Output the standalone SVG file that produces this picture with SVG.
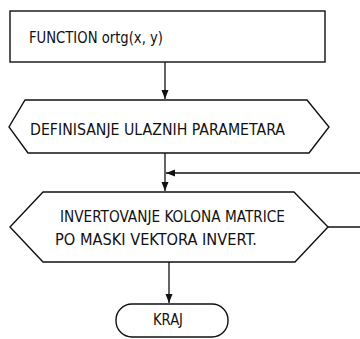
<svg xmlns="http://www.w3.org/2000/svg" width="360" height="339" viewBox="0 0 360 339">
<style>
.s{fill:#fff;stroke:#111;stroke-width:1.4;stroke-linejoin:miter}
.c{fill:none;stroke:#111;stroke-width:1.3}
.t{font-family:"DejaVu Sans Condensed","Liberation Sans",sans-serif;font-size:15px;fill:#111}
</style>
<defs>
<marker id="ah" markerWidth="10" markerHeight="8" refX="9" refY="4" orient="auto" markerUnits="userSpaceOnUse">
<path d="M0,0.5 L9,4 L0,7.5 Z" fill="#111"/>
</marker>
</defs>
<rect width="360" height="339" fill="#fff"/>
<g id="connectors">
<path class="c" d="M165,62 V99" marker-end="url(#ah)"/>
<path class="c" d="M165,153 V191" marker-end="url(#ah)"/>
<path class="c" d="M362,173 H166" marker-end="url(#ah)"/>
<path class="c" d="M328,227 H362"/>
<path class="c" d="M169,262 V303" marker-end="url(#ah)"/>
</g>
<g id="n_function">
<rect class="s" x="10" y="11" width="315" height="51"/>
<text class="t" x="29" y="43" textLength="134" lengthAdjust="spacingAndGlyphs">FUNCTION ortg(x, y)</text>
</g>
<g id="n_definisanje">
<polygon class="s" points="25,100 307,100 329,127 309,153 28,153 9,127"/>
<text class="t" x="30" y="135" textLength="255" lengthAdjust="spacingAndGlyphs">DEFINISANJE ULAZNIH PARAMETARA</text>
</g>
<g id="n_invertovanje">
<polygon class="s" points="43,192 294,192 328,227 295,262 43,262 10,227"/>
<text class="t" x="60" y="222" textLength="225" lengthAdjust="spacingAndGlyphs">INVERTOVANJE KOLONA MATRICE</text>
<text class="t" x="55" y="245" textLength="202" lengthAdjust="spacingAndGlyphs">PO MASKI VEKTORA INVERT.</text>
</g>
<g id="n_kraj">
<rect class="s" x="116" y="304" width="112" height="33" rx="16" ry="16"/>
<text class="t" x="153" y="325" textLength="30" lengthAdjust="spacingAndGlyphs">KRAJ</text>
</g>
</svg>
